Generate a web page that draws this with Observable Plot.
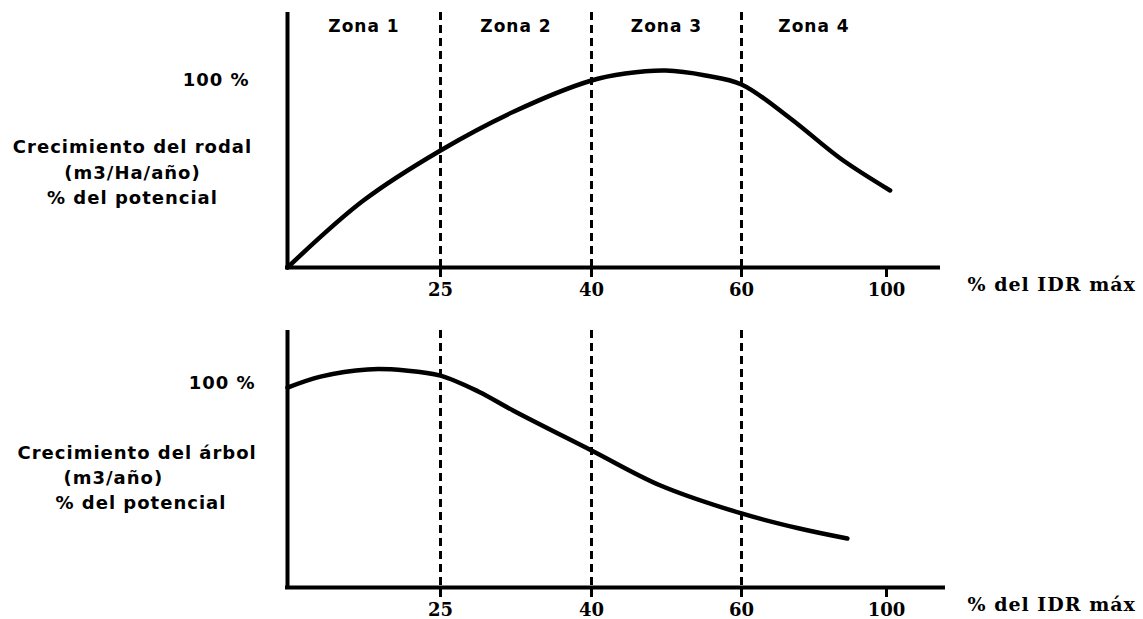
<!DOCTYPE html>
<html>
<head>
<meta charset="utf-8">
<script src="https://cdn.jsdelivr.net/npm/d3@7"></script>
<script src="https://cdn.jsdelivr.net/npm/@observablehq/plot@0.6"></script>
<style>
  html, body { margin: 0; padding: 0; background: #fff; }
  #chart { width: 1143px; height: 619px; }
  #chart svg { display: block; }
</style>
</head>
<body>
<div id="chart"></div>
<script>
// Límites de % del IDR máximo (eje x por tramos)
const idrBreaks = [0, 25, 40, 60, 100];
const zoneNames = ["Zona 1", "Zona 2", "Zona 3", "Zona 4"];
const zoneLimits = [25, 40, 60];
const xTicks = [25, 40, 60, 100];
const yTicks = [100];
const xLabel = "% del IDR máx";

// Crecimiento del rodal (% del potencial) según % del IDR máx
const rodalIdr = [0, 12.4, 25, 32.3, 40, 44.5, 49.9, 55.2, 60, 73.5, 87.3, 101];
const rodalPct = [0, 35.8, 62.6, 83.4, 100, 103.7, 105.3, 102.7, 97.9, 79.7, 58.3, 41.2];

// Crecimiento del árbol (% del potencial) según % del IDR máx
const arbolIdr = [0, 5.4, 13.1, 19.3, 25, 28.8, 32.2, 40, 49.2, 60, 76, 89.2];
const arbolPct = [98, 103.4, 106.9, 106.4, 103.9, 96, 86.8, 67.2, 50, 36.3, 28.9, 24];

const rodalLabel = "Crecimiento del rodal\n(m3/Ha/año)\n% del potencial";
const arbolLines = ["Crecimiento del árbol", "(m3/año)", "% del potencial"];

const rodal = rodalIdr.map((x, i) => ({x, y: rodalPct[i]}));
const arbol = arbolIdr.map((x, i) => ({x, y: arbolPct[i]}));
const zones = zoneNames.map((name, i) => ({name, mid: (idrBreaks[i] + idrBreaks[i + 1]) / 2}));

const SANS = "DejaVu Sans";
const SERIF = "DejaVu Serif";
// Escala x lineal por tramos: cada umbral tiene su propia posición
const xRange = [287, 440, 591, 741, 886];

function commonMarks(curve, yPad) {
  return [
    Plot.ruleX(zoneLimits, {stroke: "#000", strokeWidth: 3, strokeDasharray: "8,5"}),
    Plot.ruleX([0], {stroke: "#000", strokeWidth: 4}),
    Plot.ruleY([0], {stroke: "#000", strokeWidth: 4}),
    Plot.axisX(xTicks, {
      tickSize: 10, tickPadding: 6, strokeWidth: 3, label: null,
      fontSize: 18, fontWeight: "bold", fontFamily: SERIF, fill: "#000", stroke: "#000"
    }),
    Plot.axisY(yTicks, {
      tickSize: 0, tickPadding: yPad, label: null, tickFormat: d => `${d} %`,
      fontSize: 18, fontWeight: "bold", fontFamily: SANS, fill: "#000"
    }),
    Plot.line(curve, {x: "x", y: "y", curve: "catmull-rom", stroke: "#000", strokeWidth: 4.5, strokeLinecap: "round"})
  ];
}

const topChart = Plot.plot({
  width: 1143, height: 310,
  marginLeft: 285, marginRight: 203, marginTop: 12, marginBottom: 43,
  x: {type: "linear", domain: idrBreaks, range: xRange},
  y: {type: "linear", domain: [0, 100], range: [267, 80]},
  style: {background: "#fff", color: "#000", letterSpacing: "1px"},
  marks: [
    ...commonMarks(rodal, 36),
    Plot.text(zones, {x: "mid", text: "name", frameAnchor: "top", dy: 7,
      fontSize: 17, fontWeight: "bold", fontFamily: SANS, fill: "#000"}),
    Plot.text([xLabel], {frameAnchor: "bottom-right", textAnchor: "start", dx: 27, dy: 23,
      fontSize: 19, fontWeight: "bold", fontFamily: SERIF, fill: "#000"}),
    Plot.text([rodalLabel], {frameAnchor: "top-left", textAnchor: "middle", lineAnchor: "middle",
      dx: -153, dy: 158, lineHeight: 1.42,
      fontSize: 18, fontWeight: "bold", fontFamily: SANS, fill: "#000"})
  ]
});

const arbolDx = [-268, -222, -230];
const bottomChart = Plot.plot({
  width: 1143, height: 309,
  marginLeft: 285, marginRight: 198, marginTop: 20, marginBottom: 32,
  x: {type: "linear", domain: idrBreaks, range: xRange},
  y: {type: "linear", domain: [0, 100], range: [277, 73]},
  style: {background: "#fff", color: "#000", letterSpacing: "1px"},
  marks: [
    ...commonMarks(arbol, 30),
    Plot.text([xLabel], {frameAnchor: "bottom-right", textAnchor: "start", dx: 22, dy: 23,
      fontSize: 19, fontWeight: "bold", fontFamily: SERIF, fill: "#000"}),
    ...arbolLines.map((t, i) => Plot.text([t], {frameAnchor: "top-left", textAnchor: "start",
      dx: arbolDx[i], dy: 116 + 25 * i,
      fontSize: 18, fontWeight: "bold", fontFamily: SANS, fill: "#000"}))
  ]
});

for (const svg of [topChart, bottomChart]) {
  d3.select(svg).selectAll('g[aria-label="x-axis tick label"]').attr("letter-spacing", 0);
  document.getElementById("chart").appendChild(svg);
}
</script>
</body>
</html>
